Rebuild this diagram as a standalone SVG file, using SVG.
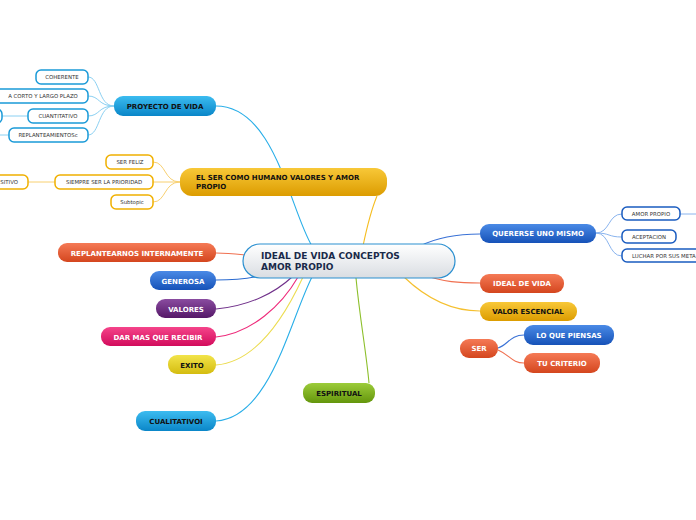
<svg xmlns="http://www.w3.org/2000/svg" width="696" height="520" viewBox="0 0 696 520">
<defs>
<linearGradient id="gCenter" x1="0" y1="0" x2="0" y2="1"><stop offset="0" stop-color="#ffffff"/><stop offset="1" stop-color="#d9dde2"/></linearGradient>
<linearGradient id="gSky" x1="0" y1="0" x2="0" y2="1"><stop offset="0" stop-color="#3cbcf0"/><stop offset="1" stop-color="#0a86c8"/></linearGradient>
<linearGradient id="gGold" x1="0" y1="0" x2="0" y2="1"><stop offset="0" stop-color="#f8c838"/><stop offset="1" stop-color="#dc9c00"/></linearGradient>
<linearGradient id="gBlue" x1="0" y1="0" x2="0" y2="1"><stop offset="0" stop-color="#4a8ae6"/><stop offset="1" stop-color="#1652b8"/></linearGradient>
<linearGradient id="gRed" x1="0" y1="0" x2="0" y2="1"><stop offset="0" stop-color="#f57a56"/><stop offset="1" stop-color="#d4461e"/></linearGradient>
<linearGradient id="gPurple" x1="0" y1="0" x2="0" y2="1"><stop offset="0" stop-color="#8a4ca0"/><stop offset="1" stop-color="#551868"/></linearGradient>
<linearGradient id="gPink" x1="0" y1="0" x2="0" y2="1"><stop offset="0" stop-color="#f5448a"/><stop offset="1" stop-color="#d20c5c"/></linearGradient>
<linearGradient id="gYellow" x1="0" y1="0" x2="0" y2="1"><stop offset="0" stop-color="#f2e44a"/><stop offset="1" stop-color="#d4bc10"/></linearGradient>
<linearGradient id="gGreen" x1="0" y1="0" x2="0" y2="1"><stop offset="0" stop-color="#9ccc3a"/><stop offset="1" stop-color="#64960c"/></linearGradient>
</defs>
<style>
text{font-family:"DejaVu Sans","Verdana",sans-serif;}
.main{font-weight:bold;font-size:7px;text-anchor:middle;}
.w{fill:#ffffff;}
.d{fill:#111111;}
.sub{font-size:5.4px;fill:#333333;text-anchor:middle;}
.cb{fill:#ffffff;stroke-width:1.5;}
.c{fill:none;stroke-width:1.1;}
</style>
<g id="connectors">
<path class="c" stroke="#29aee8" d="M312 246 C 290 210, 275 106, 216 106"/>
<path class="c" stroke="#f5bd20" d="M363 246 C 368 222, 372 208, 377 196"/>
<path class="c" stroke="#3a72d6" d="M420 246 C 440 236, 460 234, 480 234"/>
<path class="c" stroke="#f07050" d="M425 275 C 442 282, 460 283, 480 283"/>
<path class="c" stroke="#f5c030" d="M404 277 C 430 302, 455 311, 480 311"/>
<path class="c" stroke="#f07050" d="M216 253 C 228 253, 236 254, 245 255"/>
<path class="c" stroke="#2a6ad0" d="M216 280 C 235 280, 252 278, 264 275"/>
<path class="c" stroke="#70308a" d="M216 309 C 250 306, 276 292, 292 277"/>
<path class="c" stroke="#ee2a7a" d="M216 337 C 252 333, 282 305, 298 277"/>
<path class="c" stroke="#ecdc50" d="M216 365 C 256 362, 285 316, 303 277"/>
<path class="c" stroke="#29aee8" d="M216 421 C 270 418, 290 320, 312 277"/>
<path class="c" stroke="#8cbf2a" d="M356 278 C 360 320, 366 350, 369 383"/>
<path class="c" stroke="#3a72d6" d="M498 348 C 508 345, 510 335, 524 335"/>
<path class="c" stroke="#f07050" d="M498 350 C 510 355, 512 363, 524 363"/>
<g stroke="#8ad0f2" fill="none" stroke-width="1">
<path d="M114 106 C 98 106, 100 77, 88 77"/>
<path d="M114 106 C 98 106, 100 96, 88 96"/>
<path d="M114 106 C 98 106, 100 116, 88 116"/>
<path d="M114 106 C 98 106, 100 135, 88 135"/>
<path d="M28 116 L 2 116"/>
<path d="M9 135 L 0 135"/>
</g>
<g stroke="#f8d070" fill="none" stroke-width="1">
<path d="M180 182 C 164 182, 166 162, 153 162"/>
<path d="M180 182 L 153 182"/>
<path d="M180 182 C 164 182, 166 202, 153 202"/>
<path d="M55 182 L 28 182"/>
</g>
<g stroke="#8ab4ee" fill="none" stroke-width="1">
<path d="M596 233 C 610 233, 608 214, 622 214"/>
<path d="M596 233 C 610 233, 608 237, 622 237"/>
<path d="M596 233 C 610 233, 608 256, 622 256"/>
<path d="M680 214 L 696 214"/>
</g>
</g>
<g id="center">
<rect x="243" y="244" width="212" height="34" rx="17" fill="url(#gCenter)" stroke="#2a8fd0" stroke-width="1.2"/>
<text x="261" y="259" font-weight="bold" font-size="9" fill="#1a2a4a">IDEAL DE VIDA CONCEPTOS</text>
<text x="261" y="270" font-weight="bold" font-size="9" fill="#1a2a4a">AMOR PROPIO</text>
</g>
<g id="proyecto">
<rect x="114" y="96" width="102" height="20" rx="9" fill="url(#gSky)"/>
<text class="main d" x="165" y="109">PROYECTO DE VIDA</text>
</g>
<g id="coherente"><rect class="cb" stroke="#1a9ad8" x="36" y="70" width="52" height="14" rx="5"/><text class="sub" x="62" y="79">COHERENTE</text></g>
<g id="corto"><rect class="cb" stroke="#1a9ad8" x="-4" y="89" width="92" height="14" rx="5"/><text class="sub" x="43" y="98">A CORTO Y LARGO PLAZO</text></g>
<g id="cuantitativo"><rect class="cb" stroke="#1a9ad8" x="28" y="109" width="60" height="14" rx="5"/><text class="sub" x="58" y="118">CUANTITATIVO</text></g>
<g id="cut1"><rect class="cb" stroke="#1a9ad8" x="-20" y="109" width="22" height="14" rx="5"/></g>
<g id="replanteamientos"><rect class="cb" stroke="#1a9ad8" x="9" y="128" width="79" height="14" rx="5"/><text class="sub" x="48" y="137">REPLANTEAMIENTOSc</text></g>
<g id="elser">
<rect x="180" y="168" width="207" height="28" rx="12" fill="url(#gGold)"/>
<text x="196" y="180" font-weight="bold" font-size="7" fill="#111">EL SER COMO HUMANO VALORES Y AMOR</text>
<text x="196" y="189" font-weight="bold" font-size="7" fill="#111">PROPIO</text>
</g>
<g id="serfeliz"><rect class="cb" stroke="#f0b000" x="106" y="155" width="47" height="14" rx="5"/><text class="sub" x="130" y="164">SER FELIZ</text></g>
<g id="siempre"><rect class="cb" stroke="#f0b000" x="55" y="175" width="98" height="14" rx="5"/><text class="sub" x="104" y="184">SIEMPRE SER LA PRIORIDAD</text></g>
<g id="positivo"><rect class="cb" stroke="#f0b000" x="-20" y="175" width="48" height="14" rx="5"/><text class="sub" x="18" y="184" style="text-anchor:end">SITIVO</text></g>
<g id="subtopic"><rect class="cb" stroke="#f0b000" x="111" y="195" width="42" height="14" rx="5"/><text class="sub" x="132" y="204">Subtopic</text></g>
<g id="quererse">
<rect x="480" y="224" width="116" height="19" rx="9" fill="url(#gBlue)"/>
<text class="main w" x="538" y="236">QUERERSE UNO MISMO</text>
</g>
<g id="amorpropio"><rect class="cb" stroke="#1a5cc0" x="622" y="207" width="58" height="13" rx="5"/><text class="sub" x="651" y="215.8">AMOR PROPIO</text></g>
<g id="aceptacion"><rect class="cb" stroke="#1a5cc0" x="622" y="230" width="54" height="13" rx="5"/><text class="sub" x="649" y="238.8">ACEPTACION</text></g>
<g id="luchar"><rect class="cb" stroke="#1a5cc0" x="622" y="249" width="90" height="13" rx="5"/><text class="sub" x="632" y="257.8" style="text-anchor:start">LUCHAR POR SUS META</text></g>
<g id="idealvida">
<rect x="480" y="274" width="84" height="19" rx="9" fill="url(#gRed)"/>
<text class="main w" x="522" y="286">IDEAL DE VIDA</text>
</g>
<g id="valor">
<rect x="480" y="302" width="97" height="19" rx="9" fill="url(#gGold)"/>
<text class="main d" x="528" y="314">VALOR ESCENCIAL</text>
</g>
<g id="ser">
<rect x="460" y="339" width="38" height="19" rx="9" fill="url(#gRed)"/>
<text class="main w" x="479" y="351">SER</text>
</g>
<g id="loquepiensas">
<rect x="524" y="325" width="90" height="20" rx="9" fill="url(#gBlue)"/>
<text class="main w" x="569" y="338">LO QUE PIENSAS</text>
</g>
<g id="tucriterio">
<rect x="524" y="353" width="76" height="20" rx="9" fill="url(#gRed)"/>
<text class="main w" x="562" y="366">TU CRITERIO</text>
</g>
<g id="replantearnos">
<rect x="58" y="243" width="158" height="19" rx="9" fill="url(#gRed)"/>
<text class="main w" x="137" y="255.5">REPLANTEARNOS INTERNAMENTE</text>
</g>
<g id="generosa">
<rect x="150" y="271" width="66" height="19" rx="9" fill="url(#gBlue)"/>
<text class="main w" x="183" y="283.5">GENEROSA</text>
</g>
<g id="valores">
<rect x="156" y="299" width="60" height="19" rx="9" fill="url(#gPurple)"/>
<text class="main w" x="186" y="311.5">VALORES</text>
</g>
<g id="darmas">
<rect x="101" y="327" width="115" height="19" rx="9" fill="url(#gPink)"/>
<text class="main w" x="158" y="339.5">DAR MAS QUE RECIBIR</text>
</g>
<g id="exito">
<rect x="168" y="355" width="48" height="19" rx="9" fill="url(#gYellow)"/>
<text class="main d" x="192" y="367.5">EXITO</text>
</g>
<g id="cualitativo">
<rect x="136" y="411" width="80" height="20" rx="9" fill="url(#gSky)"/>
<text class="main d" x="176" y="424">CUALITATIVOI</text>
</g>
<g id="espiritual">
<rect x="303" y="383" width="72" height="20" rx="9" fill="url(#gGreen)"/>
<text class="main d" x="339" y="396">ESPIRITUAL</text>
</g>
</svg>
